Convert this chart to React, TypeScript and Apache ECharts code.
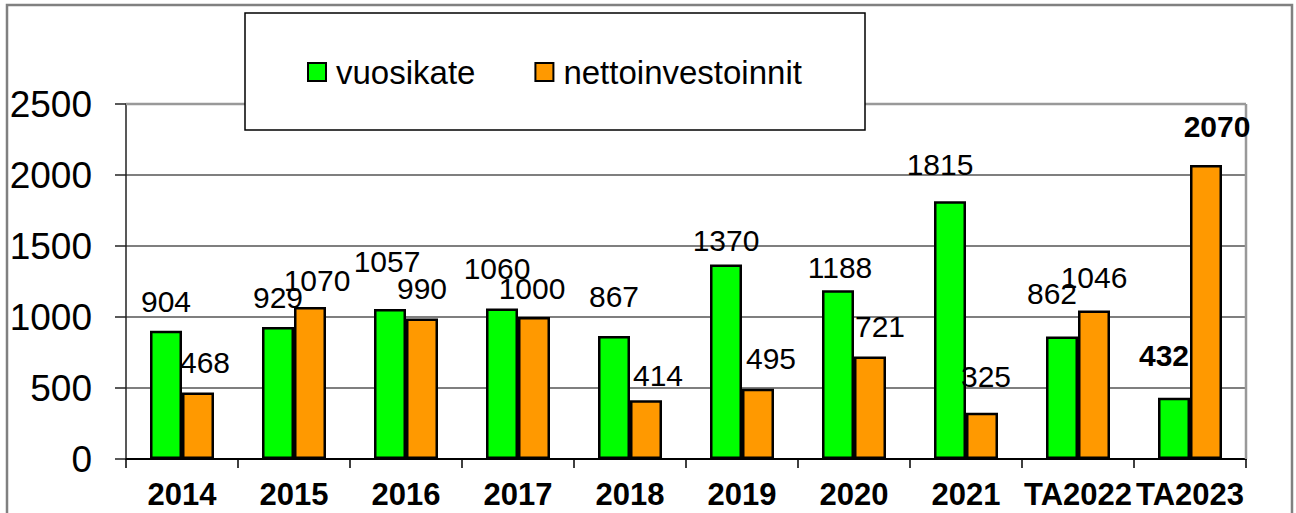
import React, { useEffect, useRef } from 'react';
import * as echarts from 'echarts';

const categories = ['2014', '2015', '2016', '2017', '2018', '2019', '2020', '2021', 'TA2022', 'TA2023'];
const vuosikate = [904, 929, 1057, 1060, 867, 1370, 1188, 1815, 862, 432];
const nettoinvestoinnit = [468, 1070, 990, 1000, 414, 495, 721, 325, 1046, 2070];
const seriesNames = ['vuosikate', 'nettoinvestoinnit'];
const yMin = 0;
const yMax = 2500;
const yStep = 500;
const boldIndex = 9;

// label nudges (styling only, in pixels)
const vuosiNudge = [[0, 1], [0, 0], [-3, -17], [-5, -10], [0, -9], [0, 6], [2, 7], [-10, -7], [-10, -13], [-10, -12]];
const nettoNudge = [[7, 0], [7, 3], [0, 0], [-2, 1], [12, 5], [13, 0], [10, 0], [4, -6], [0, -3], [11, -9]];

const FONT = "'Liberation Sans', Arial, sans-serif";

function buildData(values: number[], nudge: number[][]) {
  return values.map((v, i) => ({
    value: v,
    label: {
      offset: nudge[i],
      fontWeight: i === boldIndex ? 'bold' : 'normal',
    },
  }));
}

export default function App() {
  const ref = useRef<HTMLDivElement>(null);
  useEffect(() => {
    if (!ref.current) return;
    const chart = echarts.init(ref.current, undefined, { renderer: 'svg' });
    const gridLeft = 126;
    const gridTop = 104;
    const gridW = 1120;
    const gridH = 355;
    const labelCommon = {
      show: true,
      position: 'top',
      distance: 15,
      fontSize: 30,
      lineHeight: 30,
      color: '#000',
      fontFamily: FONT,
    };
    chart.setOption({
      animation: false,
      backgroundColor: '#fff',
      textStyle: { fontFamily: FONT },
      grid: { left: gridLeft, top: gridTop, width: gridW, height: gridH, containLabel: false },
      legend: {
        data: seriesNames,
        left: 302,
        top: 50,
        z: 10,
        icon: 'rect',
        itemWidth: 18,
        itemHeight: 18,
        itemGap: 59,
        itemStyle: { borderColor: '#000', borderWidth: 2 },
        textStyle: { fontSize: 33, lineHeight: 34, color: '#000', fontFamily: FONT, padding: [0, 0, 0, 5] },
      },
      xAxis: {
        type: 'category',
        data: categories,
        axisLine: { lineStyle: { color: '#000', width: 2 } },
        axisTick: { show: true, length: 9, alignWithLabel: false, interval: 0, lineStyle: { color: '#000', width: 1.5 } },
        axisLabel: { fontSize: 31, fontWeight: 'bold', color: '#000', margin: 20, interval: 0, fontFamily: FONT },
      },
      yAxis: {
        type: 'value',
        min: yMin,
        max: yMax,
        interval: yStep,
        axisLine: { show: true, lineStyle: { color: '#222', width: 1.5 } },
        axisTick: { show: true, length: 11, lineStyle: { color: '#222', width: 1.5 } },
        splitLine: { show: true, lineStyle: { color: ['#555', '#555', '#555', '#555', '#555', '#999'], width: 1.5 } },
        axisLabel: { fontSize: 37, color: '#000', margin: 34, fontFamily: FONT, formatter: (v: number) => String(v) },
      },
      graphic: [
        {
          type: 'rect',
          z: 1,
          silent: true,
          shape: { x: 7, y: 5, width: 1285, height: 540 },
          style: { fill: 'none', stroke: '#808080', lineWidth: 2.5 },
        },
        {
          type: 'line',
          z: 1,
          silent: true,
          shape: { x1: gridLeft, y1: gridTop, x2: gridLeft + gridW, y2: gridTop },
          style: { stroke: '#999', lineWidth: 2.5 },
        },
        {
          type: 'line',
          z: 1,
          silent: true,
          shape: { x1: gridLeft + gridW, y1: gridTop, x2: gridLeft + gridW, y2: gridTop + gridH },
          style: { stroke: '#999', lineWidth: 2.5 },
        },
        {
          type: 'rect',
          z: 6,
          silent: true,
          shape: { x: 245, y: 13, width: 620, height: 117 },
          style: { fill: '#fff', stroke: '#000', lineWidth: 1.5 },
        },
      ],
      series: [
        {
          name: seriesNames[0],
          type: 'bar',
          barWidth: 32,
          barGap: '0%',
          itemStyle: { color: '#00FF00', borderColor: '#000', borderWidth: 2.5 },
          label: labelCommon,
          data: buildData(vuosikate, vuosiNudge),
        },
        {
          name: seriesNames[1],
          type: 'bar',
          barWidth: 32,
          barGap: '0%',
          itemStyle: { color: '#FF9900', borderColor: '#000', borderWidth: 2.5 },
          label: labelCommon,
          data: buildData(nettoinvestoinnit, nettoNudge),
        },
      ],
    });
    return () => chart.dispose();
  }, []);
  return (
    <div
      ref={ref}
      style={{ position: 'absolute', left: 0, top: 0, width: 1296, height: 513, background: '#fff' }}
    />
  );
}
